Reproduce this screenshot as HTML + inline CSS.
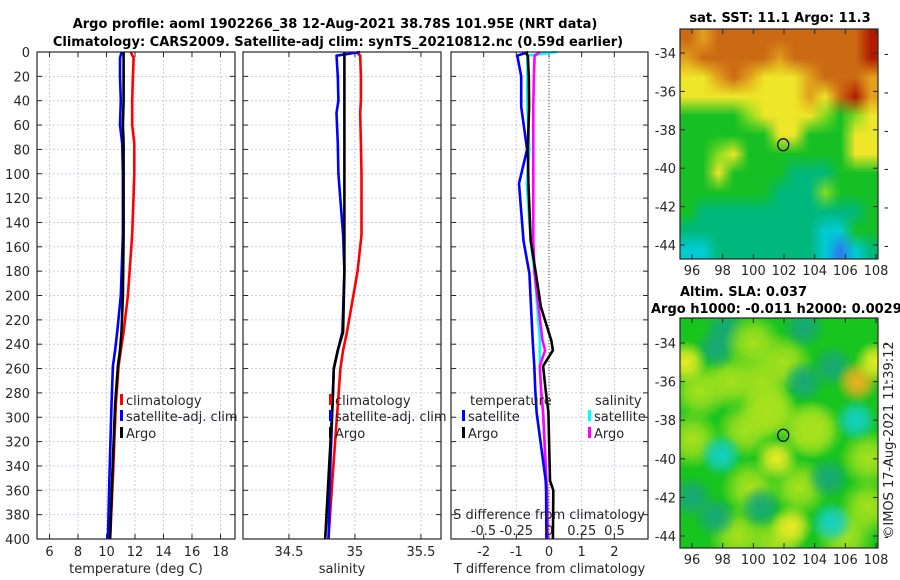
<!DOCTYPE html>
<html><head><meta charset="utf-8">
<style>
html,body{margin:0;padding:0;background:#fff;}
#wrap{position:relative;width:900px;height:580px;overflow:hidden;font-family:"DejaVu Sans","Liberation Sans",sans-serif;}
svg{position:absolute;left:0;top:0;}
canvas{position:absolute;}
text{font-family:"DejaVu Sans","Liberation Sans",sans-serif;fill:#262626;}
</style></head>
<body>
<div id="wrap">
<canvas id="sstmap" style="left:680px;top:29px;width:198px;height:230px;" width="13" height="12"></canvas>
<canvas id="slamap" style="left:680px;top:318px;width:198px;height:230px;" width="198" height="230"></canvas>
<svg id="svg" width="900" height="580" xmlns="http://www.w3.org/2000/svg">
<text x="335" y="28" text-anchor="middle" font-size="13" font-weight="bold" style="fill:#000">Argo profile: aoml 1902266_38 12-Aug-2021 38.78S 101.95E (NRT data)</text>
<text x="338" y="46" text-anchor="middle" font-size="13" font-weight="bold" style="fill:#000">Climatology: CARS2009. Satellite-adj clim: synTS_20210812.nc (0.59d earlier)</text>
<text x="780" y="22" text-anchor="middle" font-size="13" font-weight="bold" style="fill:#000">sat. SST: 11.1 Argo: 11.3</text>
<text x="680" y="296" font-size="13" font-weight="bold" style="fill:#000">Altim. SLA: 0.037</text>
<text x="651" y="313" font-size="13" font-weight="bold" style="fill:#000">Argo h1000: -0.011 h2000: 0.0029</text>
<text transform="translate(893,440) rotate(-90)" text-anchor="middle" font-size="13">©IMOS 17-Aug-2021 11:39:12</text>
</svg>
</div>
<script>
// ---------- data ----------
const tDepths = [0,5,20,40,60,75,100,150,200,230,245,258,290,350,400];
const tempArgo = [11.2,11.2,11.2,11.2,11.15,11.2,11.2,11.2,11.15,11.05,10.95,10.8,10.6,10.4,10.25];
const tempClim = [11.7,11.9,11.85,11.8,11.8,11.95,11.95,11.8,11.5,11.2,11.0,10.85,10.65,10.45,10.25];
const tempSat = [11.05,10.95,10.95,11.0,10.95,11.1,11.15,11.15,11.0,10.75,10.6,10.45,10.35,10.2,10.1];
const sDepths = [0,3,20,40,50,75,100,150,180,230,245,260,290,350,400];
const salArgo = [34.92,34.92,34.92,34.92,34.92,34.92,34.92,34.92,34.92,34.91,34.87,34.84,34.83,34.80,34.775];
const salClim = [35.01,35.04,35.045,35.045,35.04,35.045,35.05,35.05,35.02,34.94,34.91,34.89,34.87,34.83,34.80];
const salSat = [35.04,34.86,34.87,34.875,34.86,34.87,34.875,34.91,34.92,34.905,34.87,34.84,34.83,34.81,34.80];
const dDepths = [0,3,20,45,80,108,155,182,209,237,245,258,278,296,352,360,400];
const dTempSat = [-0.64,-0.97,-0.85,-0.85,-0.67,-0.92,-0.78,-0.6,-0.55,-0.5,-0.48,-0.45,-0.42,-0.38,-0.1,-0.09,-0.08];
const dTempArgo = [-0.73,-0.65,-0.62,-0.61,-0.65,-0.63,-0.56,-0.4,-0.25,0.07,0.12,-0.18,-0.1,-0.02,0.03,0.13,0.12];
const dSalSat = [0.06,-0.166,-0.166,-0.166,-0.15,-0.17,-0.14,-0.11,-0.09,-0.07,-0.07,-0.07,-0.06,-0.045,-0.02,-0.015,-0.01];
const dSalArgo = [-0.07,-0.11,-0.115,-0.12,-0.12,-0.12,-0.12,-0.11,-0.08,-0.05,-0.03,-0.07,-0.06,-0.045,-0.02,-0.015,-0.01];
const depthTicks = [0,20,40,60,80,100,120,140,160,180,200,220,240,260,280,300,320,340,360,380,400];
const tempTicks = [6,8,10,12,14,16,18];
const salTicks = [34.5,35,35.5];
const salTickLabels = ["34.5","35","35.5"];
const diffTTicks = [-2,-1,0,1,2];
const diffSTicks = [-0.5,-0.25,0,0.25,0.5];
const diffSTickLabels = ["-0.5","-0.25","0","0.25","0.5"];
const lonTicks = [96,98,100,102,104,106,108];
const latTicks = [-34,-36,-38,-40,-42,-44];
const argoLon = 101.95, argoLat = -38.78;

// ---------- helpers ----------
const NS = "http://www.w3.org/2000/svg";
const svg = document.getElementById('svg');
function mk(tag, attrs, parent){ const e=document.createElementNS(NS,tag); for(const k in attrs) e.setAttribute(k,attrs[k]); (parent||svg).appendChild(e); return e; }
const Y0=52, Y1=539;
const yD = d => Y0 + d/400*(Y1-Y0);
function lin(d0,d1,r0,r1){ return v => r0 + (v-d0)/(d1-d0)*(r1-r0); }

const panels = [
  {name:'temperature-panel', x0:37, x1:235, f:lin(5.12,19.02,37,235), ticks:tempTicks, labels:tempTicks.map(String), title:'temperature (deg C)'},
  {name:'salinity-panel', x0:243, x1:441, f:lin(34.152,35.652,243,441), ticks:salTicks, labels:salTickLabels, title:'salinity'},
  {name:'difference-panel', x0:451, x1:648, f:lin(-3.0,3.03,451,648), ticks:diffTTicks, labels:diffTTicks.map(String), title:'T difference from climatology'}
];

panels.forEach((p,pi)=>{
  const g = mk('g',{});
  
  
  depthTicks.forEach(d=>{ if(d>0&&d<400){ const l=mk('line',{x1:p.x0,x2:p.x1,y1:yD(d),y2:yD(d),stroke:'#c9cde9','stroke-width':1,'stroke-dasharray':'2,2'},g);
      }});
  p.ticks.forEach(t=>{ const x=p.f(t); const l=mk('line',{x1:x,x2:x,y1:Y0,y2:Y1,stroke:'#c9cde9','stroke-width':1,'stroke-dasharray':'2,2'},g);
      });
  depthTicks.forEach(d=>{ const y=yD(d);
    mk('line',{x1:p.x0,x2:p.x0+5,y1:y,y2:y,stroke:'#262626'},g); mk('line',{x1:p.x1-5,x2:p.x1,y1:y,y2:y,stroke:'#262626'},g); });
  p.ticks.forEach((t,i)=>{ const x=p.f(t);
    mk('line',{x1:x,x2:x,y1:Y1,y2:Y1-5,stroke:'#262626'},g); mk('line',{x1:x,x2:x,y1:Y0,y2:Y0+5,stroke:'#262626'},g);
    const tx=mk('text',{x:x,y:556,'text-anchor':'middle','font-size':13},g); tx.textContent=p.labels[i];
      });
  const at=mk('text',{x:(p.x0+p.x1)/2,y:573,'text-anchor':'middle','font-size':13},g); at.textContent=p.title;
   
  p.g=g;
});
depthTicks.forEach(d=>{ const t=mk('text',{x:30,y:yD(d)+5,'text-anchor':'end','font-size':13}); t.textContent=String(d);
    });

function series(p, vals, depths, color, name, fx){
  const f = fx || p.f;
  const pts = vals.map((v,i)=>f(v).toFixed(1)+','+yD(depths[i]).toFixed(1)).join(' ');
  const pl = mk('polyline',{points:pts,fill:'none',stroke:color,'stroke-width':2.6,'stroke-linejoin':'round'},p.g);
  
  
}
const z = panels[2].f(0);
mk('line',{x1:z,x2:z,y1:Y0,y2:Y1,stroke:'#4a5a20','stroke-width':1,'stroke-dasharray':'1,2'},panels[2].g);

series(panels[0], tempClim, tDepths, '#ff0000', 'temperature-climatology-line');
series(panels[0], tempSat, tDepths, '#0000ff', 'temperature-satellite-line');
series(panels[0], tempArgo, tDepths, '#000000', 'temperature-argo-line');
series(panels[1], salClim, sDepths, '#ff0000', 'salinity-climatology-line');
series(panels[1], salSat, sDepths, '#0000ff', 'salinity-satellite-line');
series(panels[1], salArgo, sDepths, '#000000', 'salinity-argo-line');
const fS = lin(-0.5,0.5,panels[2].f(0)-65.5,panels[2].f(0)+65.5);
series(panels[2], dSalSat, dDepths, '#00ffff', 'salinity-diff-satellite-line', fS);
series(panels[2], dSalArgo, dDepths, '#ff00ff', 'salinity-diff-argo-line', fS);
series(panels[2], dTempSat, dDepths, '#0000ff', 'temperature-diff-satellite-line');
series(panels[2], dTempArgo, dDepths, '#000000', 'temperature-diff-argo-line');

panels.forEach(p=>{ const r=mk('rect',{x:p.x0,y:Y0,width:p.x1-p.x0,height:Y1-Y0,fill:'none',stroke:'#262626','stroke-width':1.2},p.g);
    });

const st=mk('text',{x:549,y:519,'text-anchor':'middle','font-size':13}); st.textContent='S difference from climatology';
 
diffSTicks.forEach((s,i)=>{ const t=mk('text',{x:fS(s),y:535,'text-anchor':'middle','font-size':13}); t.textContent=diffSTickLabels[i];
    });

function legend(x, y, color, label, name){
  const g=mk('g',{});
  
  
  mk('rect',{x:x,y:y-6,width:3,height:11,fill:color},g);
  const t=mk('text',{x:x+6,y:y+5,'font-size':13},g); t.textContent=label;
}
legend(120,400,'#ff0000','climatology','legend-climatology');
legend(120,416,'#0000ff','satellite-adj. clim','legend-satellite');
legend(120,433,'#000000','Argo','legend-argo');
legend(329,400,'#ff0000','climatology','legend-sal-climatology');
legend(329,416,'#0000ff','satellite-adj. clim','legend-sal-satellite');
legend(329,433,'#000000','Argo','legend-sal-argo');
const lt1=mk('text',{x:470,y:405,'font-size':13}); lt1.textContent='temperature';
 
const lt2=mk('text',{x:595,y:405,'font-size':13}); lt2.textContent='salinity';
 
legend(462,416,'#0000ff','satellite','legend-diff-t-satellite');
legend(462,433,'#000000','Argo','legend-diff-t-argo');
legend(588,416,'#00ffff','satellite','legend-diff-s-satellite');
legend(588,433,'#ff00ff','Argo','legend-diff-s-argo');

// ---------- maps ----------
const mapLon = lin(96,108,692,876);
function mapAxes(top, lat34y, lat44y, name){
  const fy = lin(-34,-44,lat34y,lat44y);
  const g=mk('g',{});
  
  
  mk('rect',{x:680,y:top,width:198,height:230,fill:'none',stroke:'#262626','stroke-width':1.2},g);
  lonTicks.forEach(l=>{ const x=mapLon(l);
    mk('line',{x1:x,x2:x,y1:top+230,y2:top+225,stroke:'#262626'},g); mk('line',{x1:x,x2:x,y1:top,y2:top+5,stroke:'#262626'},g);
    const t=mk('text',{x:x,y:top+246,'text-anchor':'middle','font-size':13},g); t.textContent=String(l); });
  latTicks.forEach(l=>{ const y=fy(l);
    mk('line',{x1:680,x2:685,y1:y,y2:y,stroke:'#262626'},g); mk('line',{x1:878,x2:873,y1:y,y2:y,stroke:'#262626'},g);
    const t=mk('text',{x:676,y:y+5,'text-anchor':'end','font-size':13},g); t.textContent=String(l);
    const t2=mk('text',{x:884,y:y+5,'font-size':13},g); t2.textContent='-'; });
  const c=mk('ellipse',{cx:mapLon(argoLon),cy:fy(argoLat),rx:5.5,ry:6,fill:'none',stroke:'#000','stroke-width':1.2},g);
   
}
mapAxes(29,53,245,'sst-map-axes');
mapAxes(318,343,536,'sla-map-axes');

const sstRows = [
 "OoOOOOOOOOOOR",
 "oOOOOOoOOOOOR",
 "YYoOoYYYoOOOo",
 "YYYYYYYYoYORo",
 "GGGGgYYYYgGgY",
 "GGGGGGYYGGGYY",
 "GGgYGGGGGGGYY",
 "GGYGGGGTTTGGG",
 "GGGGGGTTTgGGG",
 "GTTTTTTTTTTTG",
 "TTTTTTTTTCCGG",
 "CCTTTTTTTCBCT"];
const sstPal = {R:'#b01c00',O:'#cc6a14',o:'#e2a01c',Y:'#eee628',g:'#86dc20',G:'#16c024',T:'#00b87c',C:'#00ccd4',B:'#2a7cf0'};
(function(){
  const c=document.getElementById('sstmap').getContext('2d');
  sstRows.forEach((r,j)=>{ for(let i=0;i<r.length;i++){ c.fillStyle=sstPal[r[i]]; c.fillRect(i,j,1,1);} });
})();
const slaBlobLon = [96.5,99.5,100.5,102,104,107.5,107.5,99,103,96,101.5,106,99.8,103.5,98.5,101,
  98.2,97.6,103.3,105.2,103.3,106.7,97.9,104.9,105.1,96,97.5,100.5, 95.6,106.8,101.5,100,102.5,108,101];
const slaBlobLat = [-36.5,-38.5,-36,-35,-38.5,-40,-42.5,-44,-41.5,-39,-44.3,-44,-41.5,-38.5,-36,-37.5,
  -33.3,-34.3,-33.2,-35.2,-36,-38,-39.8,-41,-43.3,-42,-43,-42.5, -35,-36,-40,-34,-43.5,-35,-37.5];
const slaBlobKind = ['L','L','L','L','L','L','L','L','L','L','L','L','L','L','L','L',
  'T','T','T','T','T','C','C','T','C','T','T','T','Y','O','Y','L','Y','Y','L'];
(function(){
  const c=document.getElementById('slamap').getContext('2d');
  c.fillStyle='#18c41e'; c.fillRect(0,0,198,230);
  const cols={T:'24,168,120',C:'20,208,200',Y:'236,236,36',O:'240,176,32',L:'168,226,30'};
  const fx = l => mapLon(l)-680, fy = lin(-34,-44,343-318,536-318);
  slaBlobLon.forEach((lo,i)=>{
    const k=slaBlobKind[i];
    const x=fx(lo), y=fy(slaBlobLat[i]); const r = k==='L'?30:22;
    const gr=c.createRadialGradient(x,y,0,x,y,r);
    gr.addColorStop(0,'rgba('+cols[k]+',1)'); gr.addColorStop(0.45,'rgba('+cols[k]+',0.75)'); gr.addColorStop(1,'rgba('+cols[k]+',0)');
    c.fillStyle=gr; c.fillRect(x-r,y-r,2*r,2*r);
  });
})();
</script>
</body></html>
